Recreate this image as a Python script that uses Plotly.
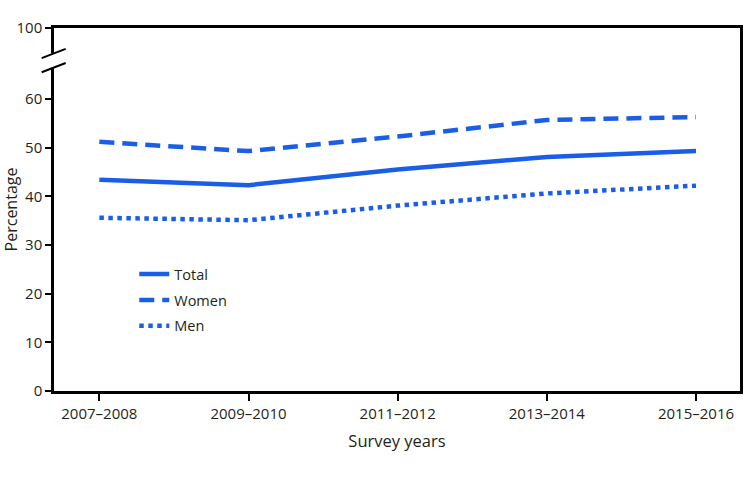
import plotly.graph_objects as go

categories = ["2007–2008", "2009–2010", "2011–2012", "2013–2014", "2015–2016"]
total = [43.4, 42.3, 45.5, 48.1, 49.3]
women = [51.2, 49.3, 52.3, 55.7, 56.3]
men = [35.6, 35.1, 38.1, 40.6, 42.2]

y_ticks = [0, 10, 20, 30, 40, 50, 60]
y_top_label = "100"
Y_TOP = 74.6  # position of the broken-axis "100" tick

BLUE = "#1a5ee8"
FONT = "Open Sans"

x_idx = list(range(len(categories)))

fig = go.Figure()
fig.add_trace(go.Scatter(x=x_idx, y=total, name="Total", mode="lines",
                         line=dict(color=BLUE, width=4.5), legendgroup="a"))
fig.add_trace(go.Scatter(x=x_idx, y=women, name="Women", mode="lines",
                         line=dict(color=BLUE, width=4.5, dash="15px,8px"), legendgroup="b"))
fig.add_trace(go.Scatter(x=x_idx, y=men, name="Men", mode="lines",
                         line=dict(color=BLUE, width=4.5, dash="4.5px,4.5px"), legendgroup="c"))

fig.update_layout(
    width=750, height=477,
    margin=dict(l=54, r=10, t=28, b=86),
    paper_bgcolor="white", plot_bgcolor="white",
    font=dict(family=FONT, size=15, color="#231f20"),
    showlegend=True,
    legend=dict(x=0.117, y=0.366, xanchor="left", yanchor="top",
                font=dict(size=14.5), tracegroupgap=4, bgcolor="rgba(0,0,0,0)"),
    xaxis=dict(
        tickvals=x_idx, ticktext=categories,
        range=[-0.304, 4.295], automargin=False,
        showline=True, linecolor="black", linewidth=2.5, mirror=True,
        ticks="outside", ticklen=7, tickwidth=2, tickcolor="black",
        showgrid=False, zeroline=False,
        title=dict(text="Survey years", font=dict(size=16.5), standoff=14),
    ),
    yaxis=dict(
        tickvals=y_ticks + [Y_TOP],
        ticktext=[str(v) for v in y_ticks] + [y_top_label],
        range=[0, Y_TOP], automargin=False,
        showline=True, linecolor="black", linewidth=2.5, mirror=True,
        ticks="outside", ticklen=6, tickwidth=2, tickcolor="black",
        showgrid=False, zeroline=False,
        title=dict(text="Percentage", font=dict(size=16), standoff=10),
    ),
)

# axis break: white gap + two slashes on the left axis
fig.add_shape(type="rect", xref="paper", yref="y", x0=-0.006, x1=0.006,
              y0=66.3, y1=69.4, fillcolor="white", line=dict(width=0), layer="above")
for y0, y1 in [(68.4, 70.3), (65.5, 67.4)]:
    fig.add_shape(type="line", xref="paper", yref="y", x0=-0.018, x1=0.017,
                  y0=y0, y1=y1, line=dict(color="black", width=2), layer="above")

fig.write_html("out.html",
               config={"displayModeBar": False},
               post_script="document.body.style.margin='0';document.body.style.overflow='hidden';")
